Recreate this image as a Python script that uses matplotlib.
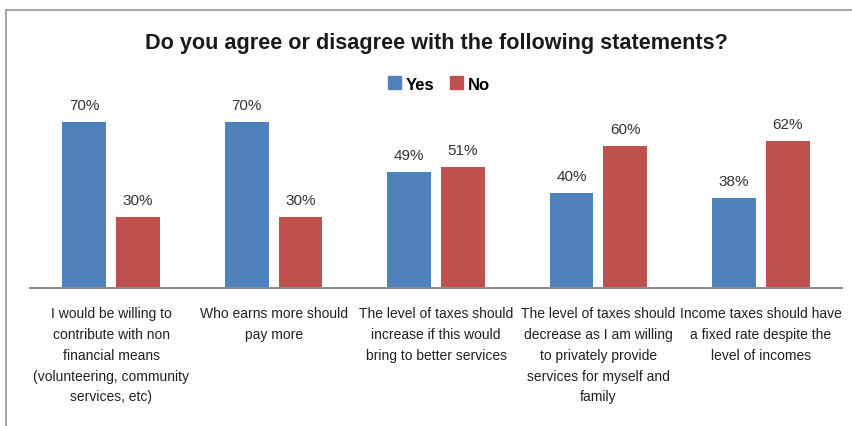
import matplotlib
matplotlib.use("Agg")
import matplotlib.pyplot as plt
from matplotlib.patches import Rectangle
from matplotlib.lines import Line2D
import numpy as np

plt.rcParams['font.family'] = ['Liberation Sans', 'DejaVu Sans']

title = "Do you agree or disagree with the following statements?"
categories = [
    "I would be willing to\ncontribute with non\nfinancial means\n(volunteering, community\nservices, etc)",
    "Who earns more should\npay more",
    "The level of taxes should\nincrease if this would\nbring to better services",
    "The level of taxes should\ndecrease as I am willing\nto privately provide\nservices for myself and\nfamily",
    "Income taxes should have\na fixed rate despite the\nlevel of incomes",
]
series_names = ["Yes", "No"]
yes_vals = [70, 70, 49, 40, 38]
no_vals = [30, 30, 51, 60, 62]
colors = ["#4F81BD", "#C0504D"]

W, H = 852, 427
fig = plt.figure(figsize=(W / 100, H / 100), dpi=100)

left, right, bottom_px, top_px = 30, 842, 289, 99.4
ax = fig.add_axes([left / W, (H - bottom_px) / H, (right - left) / W, (bottom_px - top_px) / H])

x = np.arange(len(categories))
bw = 0.27
off = 0.166
b1 = ax.bar(x - off, yes_vals, bw, color=colors[0], label=series_names[0])
b2 = ax.bar(x + off, no_vals, bw, color=colors[1], label=series_names[1])

for bars, vals in ((b1, yes_vals), (b2, no_vals)):
    for rect, v in zip(bars, vals):
        ax.annotate(f"{v}%", (rect.get_x() + rect.get_width() / 2, v),
                    xytext=(0, 7), textcoords="offset points",
                    ha="center", va="bottom", fontsize=11, color="#333333",
                    annotation_clip=False)

ax.set_xlim(-0.5, len(categories) - 0.5)
ax.set_ylim(0, 80)
ax.set_yticks([])
ax.set_xticks(x)
ax.set_xticklabels(categories, fontsize=10, color="#202020", linespacing=1.62)
ax.tick_params(axis="x", length=0, pad=13)
for s in ["top", "right", "left"]:
    ax.spines[s].set_visible(False)
ax.spines["bottom"].set_color("#8C8C8C")
ax.spines["bottom"].set_linewidth(1.5)

fig.text(436.5 / W, 1 - 43 / H, title, ha="center", va="center",
         fontsize=15.6, fontweight="bold", color="#1A1A1A")

handles = [Rectangle((0, 0), 1, 1, color=c) for c in colors]
leg = fig.legend(handles, series_names, loc="center", bbox_to_anchor=(439 / W, 1 - 85 / H),
                 ncol=2, frameon=False, prop={'weight': 'bold', 'size': 12},
                 handlelength=0.8, handleheight=0.8, handletextpad=0.3, columnspacing=0.9)

fig.add_artist(Line2D([6 / W, 6 / W], [0, 1 - 11 / H], transform=fig.transFigure,
                      color="#A6A6A6", lw=1.5))
fig.add_artist(Line2D([6 / W, 1], [1 - 11 / H, 1 - 11 / H], transform=fig.transFigure,
                      color="#A6A6A6", lw=1.5))

fig.savefig("out.png", dpi=100)
